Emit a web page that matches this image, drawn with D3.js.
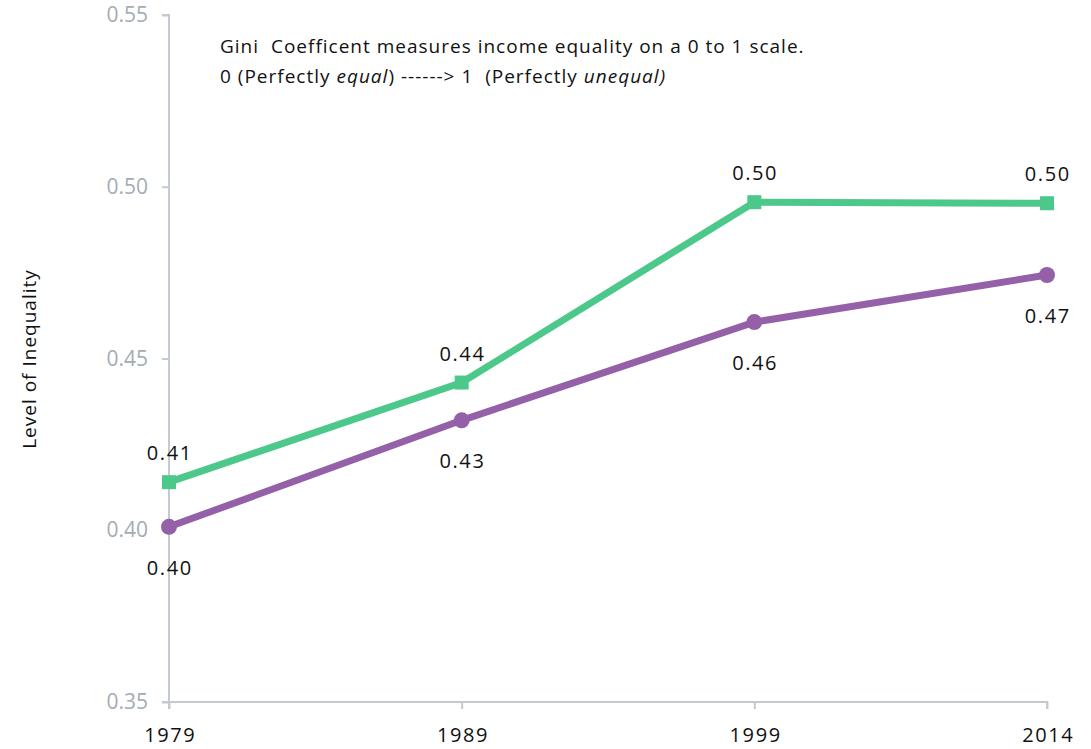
<!DOCTYPE html>
<html>
<head>
<meta charset="utf-8">
<script src="https://cdn.jsdelivr.net/npm/d3@7"></script>
<style>
  html, body { margin: 0; padding: 0; background: #fff; }
  svg { display: block; }
</style>
</head>
<body>
<svg id="chart" width="1091" height="749"></svg>
<script>
const years = ["1979", "1989", "1999", "2014"];
const greenValues = [0.414, 0.443, 0.4955, 0.4952];
const purpleValues = [0.401, 0.432, 0.4606, 0.4743];
const yTicks = [0.35, 0.40, 0.45, 0.50, 0.55];
const noteLine1 = "Gini  Coefficent measures income equality on a 0 to 1 scale.";

const svg = d3.select("#chart");
const margin = { left: 169, right: 44, top: 15, bottom: 47 };
const W = 1091, H = 749;

const x = d3.scalePoint().domain(years).range([margin.left, W - margin.right]);
const y = d3.scaleLinear().domain([0.35, 0.55]).range([H - margin.bottom, margin.top]);

const axisColor = "#c3cad2";
const tickColor = "#a3acb5";
const ls = 1.6;

// Y axis
const yAxis = svg.append("g")
  .attr("transform", `translate(${margin.left},0)`)
  .call(d3.axisLeft(y).tickValues(yTicks).tickFormat(d3.format(".2f")).tickSize(7).tickPadding(14));
yAxis.select(".domain").attr("stroke", axisColor).attr("stroke-width", 2).attr("d", `M-7,${y(0.55)}H0V${y(0.35)}H-7`);
yAxis.selectAll(".tick line").attr("stroke", axisColor).attr("stroke-width", 2);
yAxis.selectAll(".tick text").attr("fill", tickColor)
  .style("font-family", "'Open Sans', sans-serif").style("font-size", "21px");

// X axis
const xAxis = svg.append("g")
  .attr("transform", `translate(0,${y(0.35)})`)
  .call(d3.axisBottom(x).tickSize(7).tickPadding(19));
xAxis.select(".domain").attr("stroke", axisColor).attr("stroke-width", 2)
  .attr("d", `M${x.range()[0]},7V0H${x.range()[1]}V7`);
xAxis.selectAll(".tick line").attr("stroke", axisColor).attr("stroke-width", 2);
xAxis.selectAll(".tick text").attr("fill", "#111")
  .style("font-family", "'Open Sans', sans-serif").style("font-size", "20px")
  .style("letter-spacing", ls + "px").attr("dx", ls / 2);

// Y label
svg.append("text")
  .attr("transform", `translate(36,${359}) rotate(-90)`)
  .attr("text-anchor", "middle")
  .style("font-family", "'Open Sans', sans-serif").style("font-size", "19px")
  .style("letter-spacing", "1px")
  .attr("fill", "#111")
  .text("Level of Inequality");

// Annotation
const note = svg.append("g").style("font-family", "'Open Sans', sans-serif").style("font-size", "19px")
  .style("letter-spacing", "1px").attr("fill", "#111");
note.append("text").attr("x", 220).attr("y", 53).style("white-space", "pre").text(noteLine1);
const l2 = note.append("text").attr("x", 220).attr("y", 83).style("white-space", "pre");
l2.append("tspan").text("0 (Perfectly ");
l2.append("tspan").style("font-style", "italic").text("equal");
l2.append("tspan").text(") ------> 1  (Perfectly ");
l2.append("tspan").style("font-style", "italic").text("unequal)");

const line = d3.line().x((d, i) => x(years[i])).y(d => y(d));
const green = "#4cc98a", purple = "#9461a8";

svg.append("path").datum(greenValues).attr("d", line)
  .attr("fill", "none").attr("stroke", green).attr("stroke-width", 7);
svg.append("path").datum(purpleValues).attr("d", line)
  .attr("fill", "none").attr("stroke", purple).attr("stroke-width", 7);

svg.selectAll(".sq").data(greenValues).join("rect")
  .attr("x", (d, i) => x(years[i]) - 7).attr("y", d => y(d) - 7)
  .attr("width", 14).attr("height", 14).attr("fill", green);
svg.selectAll(".ci").data(purpleValues).join("circle")
  .attr("cx", (d, i) => x(years[i])).attr("cy", d => y(d)).attr("r", 8).attr("fill", purple);

const fmt = d3.format(".2f");
const lab = svg.append("g").style("font-family", "'Open Sans', sans-serif").style("font-size", "20px")
  .style("letter-spacing", ls + "px")
  .attr("fill", "#111").attr("text-anchor", "middle");
lab.selectAll(".gl").data(greenValues).join("text")
  .attr("x", (d, i) => x(years[i]) + ls / 2).attr("y", d => y(d) - 22).text(d => fmt(d));
lab.selectAll(".pl").data(purpleValues).join("text")
  .attr("x", (d, i) => x(years[i]) + ls / 2).attr("y", d => y(d) + 48).text(d => fmt(d));
</script>
</body>
</html>
